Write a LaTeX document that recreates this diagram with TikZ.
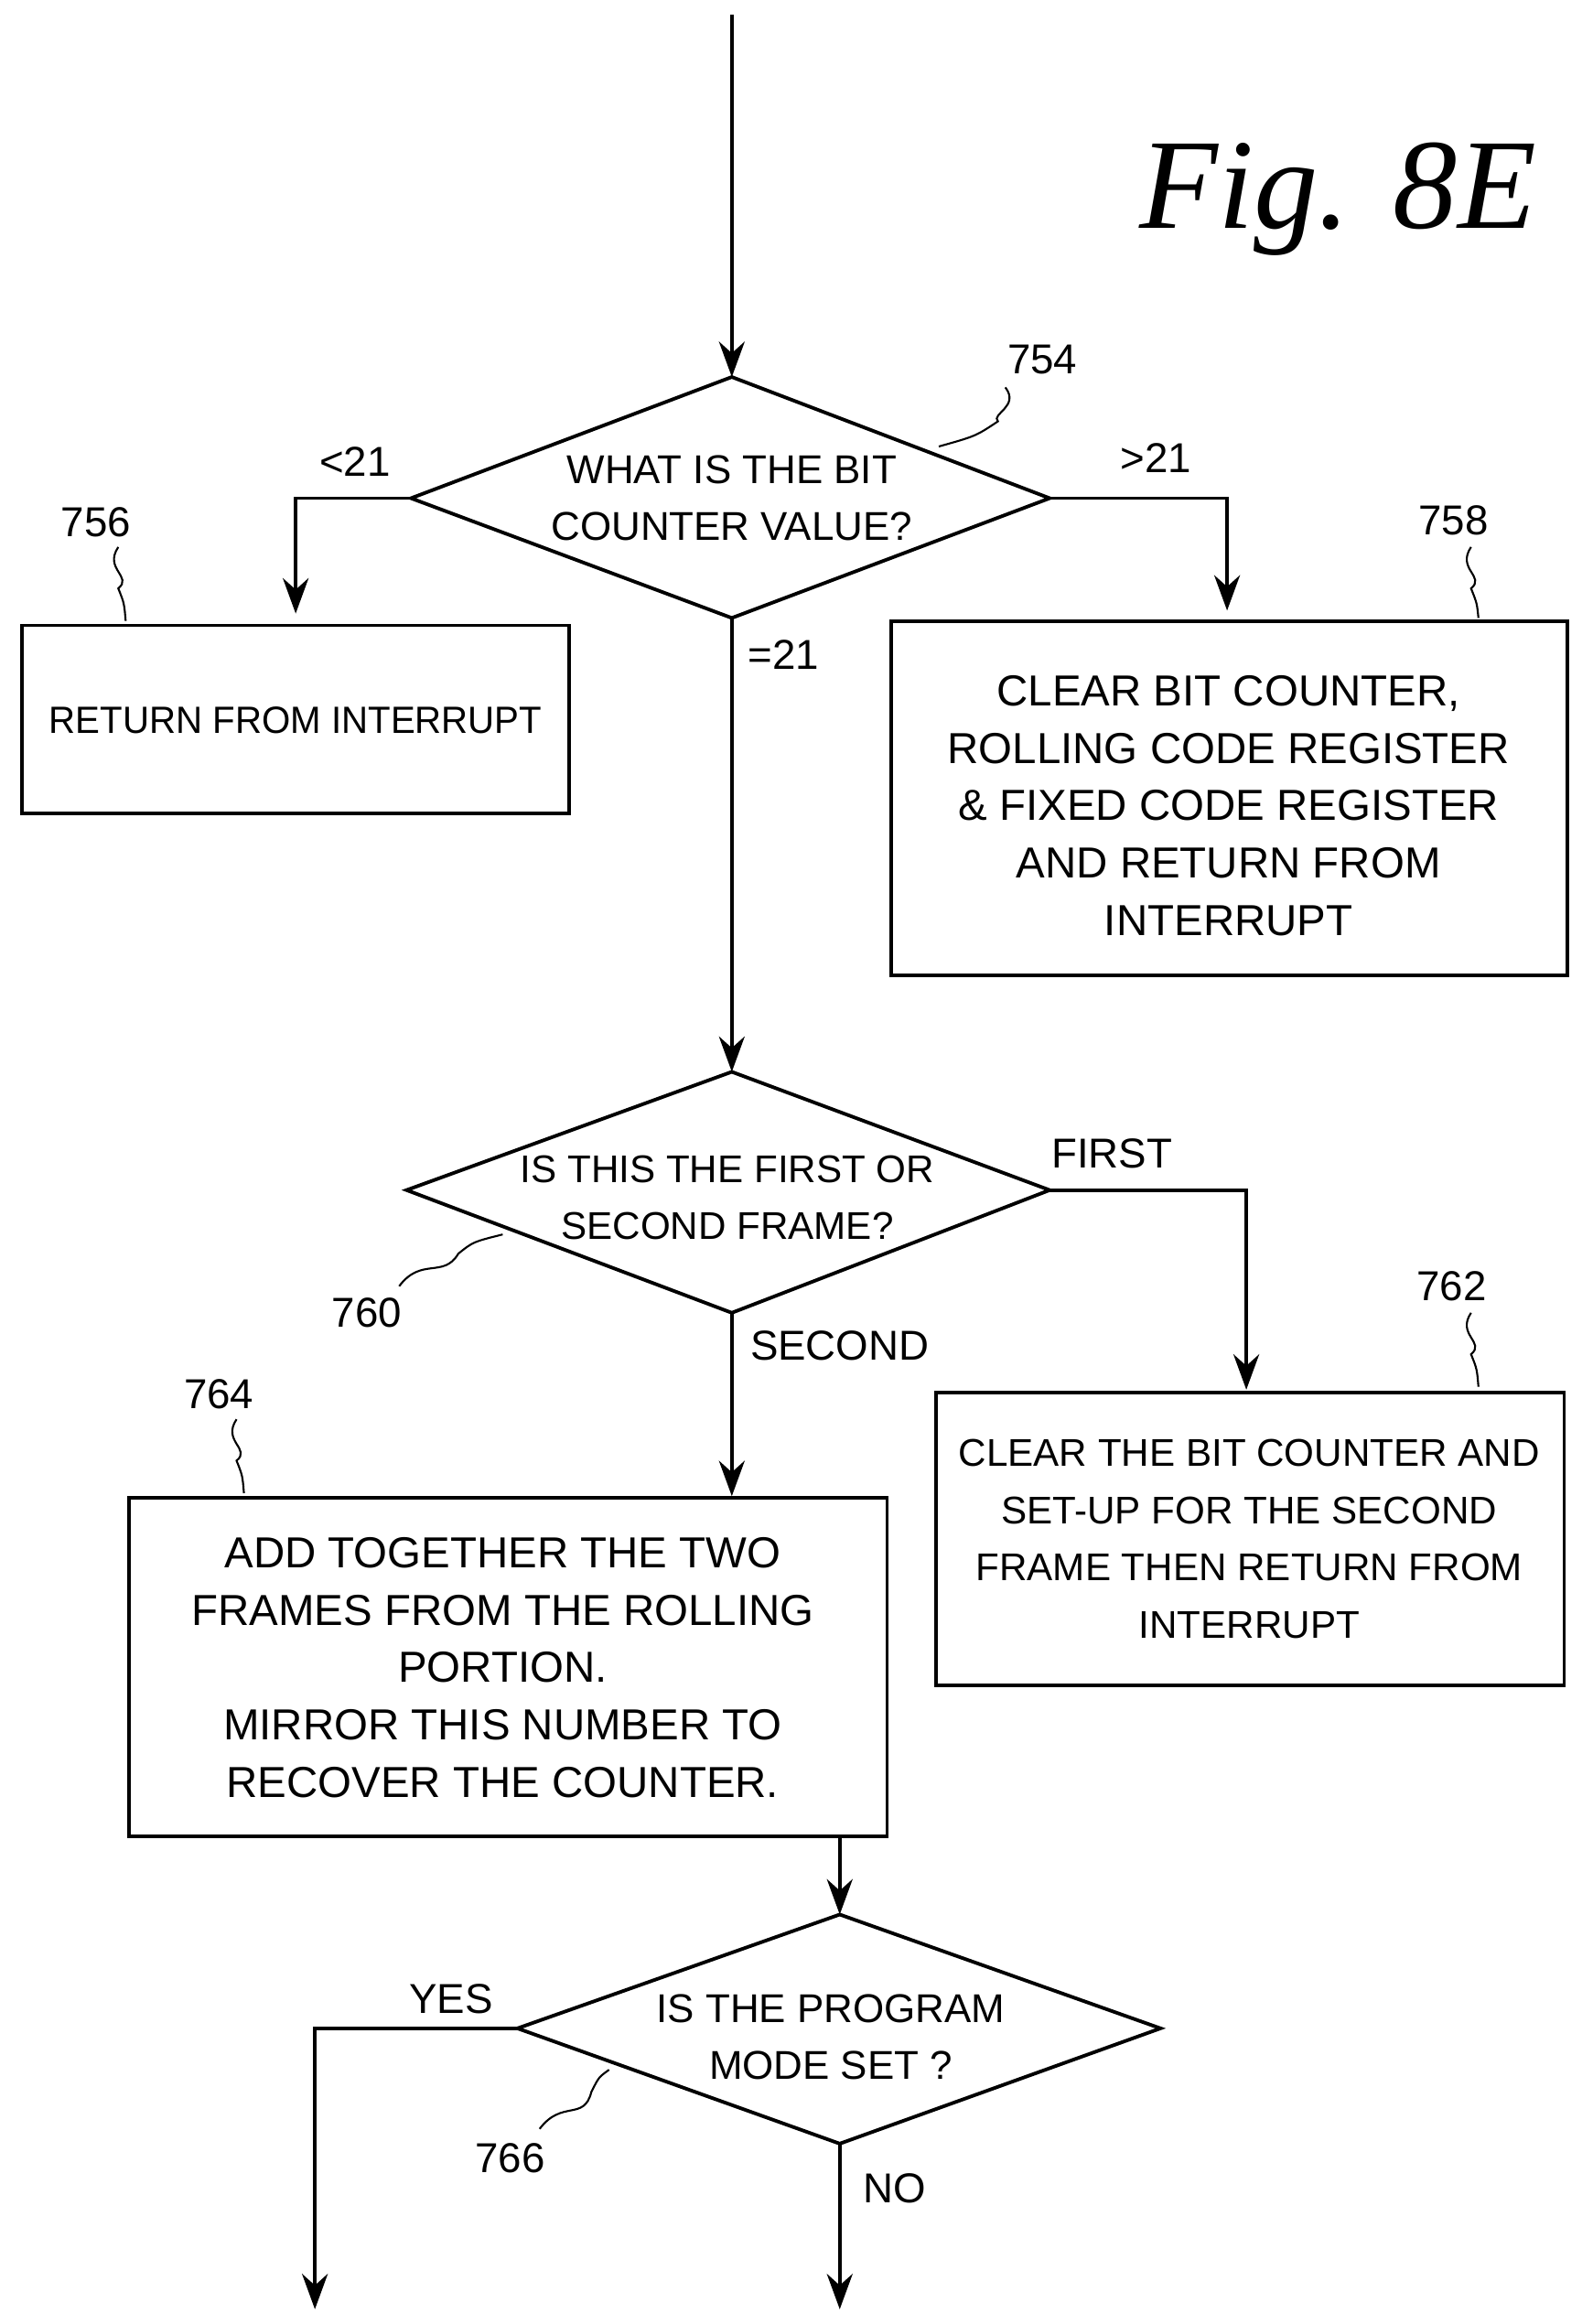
\documentclass[tikz,border=0pt]{standalone}
\usepackage{fontspec}
\setmainfont{Liberation Sans}
\newfontfamily\figfont{Liberation Serif}
\usetikzlibrary{shapes.geometric,arrows.meta}
\begin{document}
\begin{tikzpicture}[x=0.016156cm,y=-0.016156cm,
  line width=1.1pt,
  txt/.style={font=\fontsize{13}{17.5}\selectfont,align=center,inner sep=0},
  arr/.style={-{Stealth[length=11pt,width=8pt]}},
  lead/.style={line width=0.6pt}]
\useasboundingbox (0,0) rectangle (1077,1572);
\node[font=\figfont\itshape\fontsize{40}{40}\selectfont] (fig) at (905,135) {Fig. 8E};
% diamond 754
\coordinate (d1t) at (495,255); \coordinate (d1l) at (278,337);
\coordinate (d1r) at (710,337); \coordinate (d1b) at (495,418);
\draw (d1t)--(d1r)--(d1b)--(d1l)--cycle;
\node[txt,font=\fontsize{12.5}{17.5}\selectfont] (d1) at (495,337) {WHAT IS THE BIT\\COUNTER VALUE?};
\coordinate (top) at (495,10);
\draw[arr] (top)--(d1t);
% boxes
\draw (15,423) rectangle (385,550);
\node[txt,font=\fontsize{11.8}{17.5}\selectfont,xscale=0.97] (b756) at (200,487) {RETURN FROM INTERRUPT};
\draw (603,420) rectangle (1060,660);
\node[txt,font=\fontsize{13.5}{17.8}\selectfont] (b758) at (831,545) {CLEAR BIT COUNTER,\\ROLLING CODE REGISTER\\\& FIXED CODE REGISTER\\AND RETURN FROM\\INTERRUPT};
\coordinate (b756t) at (200,415); \coordinate (b758t) at (830,413);
\draw[arr] (d1l)--(200,337)--(b756t);
\draw[arr] (d1r)--(830,337)--(b758t);
\node[txt] (l21a) at (240,312) {<21};
\node[txt] (g21) at (782,310) {>21};
\node[txt] (e21) at (530,443) {=21};
% diamond 760
\coordinate (d2t) at (495,725); \coordinate (d2l) at (275,805);
\coordinate (d2r) at (710,805); \coordinate (d2b) at (495,888);
\draw (d2t)--(d2r)--(d2b)--(d2l)--cycle;
\node[txt,font=\fontsize{12}{17.5}\selectfont] (d2) at (492,810) {IS THIS THE FIRST OR\\SECOND FRAME?};
\draw[arr] (d1b)--(d2t);
\node[txt] (first) at (752,780) {FIRST};
\node[txt] (second) at (568,910) {SECOND};
\draw (633,942) rectangle (1058,1140);
\node[txt,font=\fontsize{12}{17.8}\selectfont] (b762) at (845,1041) {CLEAR THE BIT COUNTER AND\\SET-UP FOR THE SECOND\\FRAME THEN RETURN FROM\\INTERRUPT};
\coordinate (b762t) at (843,940);
\draw[arr] (d2r)--(843,805)--(b762t);
\draw (87,1013) rectangle (600,1242);
\node[txt,font=\fontsize{13.5}{17.8}\selectfont] (b764) at (340,1128) {ADD TOGETHER THE TWO\\FRAMES FROM THE ROLLING\\PORTION.\\MIRROR THIS NUMBER TO\\RECOVER THE COUNTER.};
\coordinate (b764t) at (495,1012);
\draw[arr] (d2b)--(b764t);
% diamond 766
\coordinate (d3t) at (568,1295); \coordinate (d3l) at (350,1372);
\coordinate (d3r) at (785,1372); \coordinate (d3b) at (568,1450);
\draw (d3t)--(d3r)--(d3b)--(d3l)--cycle;
\node[txt,font=\fontsize{12.5}{17.5}\selectfont] (d3) at (562,1378) {IS THE PROGRAM\\MODE SET ?};
\coordinate (b764b) at (568,1242);
\draw[arr] (b764b)--(d3t);
\coordinate (yesend) at (213,1562); \coordinate (noend) at (568,1562);
\draw[arr] (d3l)--(213,1372)--(yesend);
\draw[arr] (d3b)--(noend);
\node[txt] (yes) at (305,1352) {YES};
\node[txt] (no) at (605,1480) {NO};
% reference numbers
\node[txt] (n754) at (705,243) {754};
\node[txt] (n756) at (65,353) {756};
\node[txt] (n758) at (983,352) {758};
\node[txt] (n760) at (248,888) {760};
\node[txt] (n762) at (982,870) {762};
\node[txt] (n764) at (148,943) {764};
\node[txt] (n766) at (345,1460) {766};
\draw[lead] (680,262) .. controls (690,275) and (670,280) .. (675,285) .. controls (660,295) .. (635,302);
\draw[lead] (80,370) .. controls (70,385) and (90,390) .. (80,398) .. controls (84,408) .. (85,420);
\draw[lead] (995,370) .. controls (985,385) and (1005,390) .. (995,398) .. controls (999,408) .. (1000,418);
\draw[lead] (270,870) .. controls (285,850) and (300,865) .. (310,848) .. controls (320,840) .. (340,835);
\draw[lead] (995,888) .. controls (985,903) and (1005,908) .. (995,916) .. controls (999,926) .. (1000,938);
\draw[lead] (160,960) .. controls (150,975) and (170,980) .. (160,988) .. controls (164,998) .. (165,1010);
\draw[lead] (365,1440) .. controls (380,1420) and (395,1435) .. (400,1415) .. controls (405,1405) .. (412,1400);
\end{tikzpicture}
\end{document}
